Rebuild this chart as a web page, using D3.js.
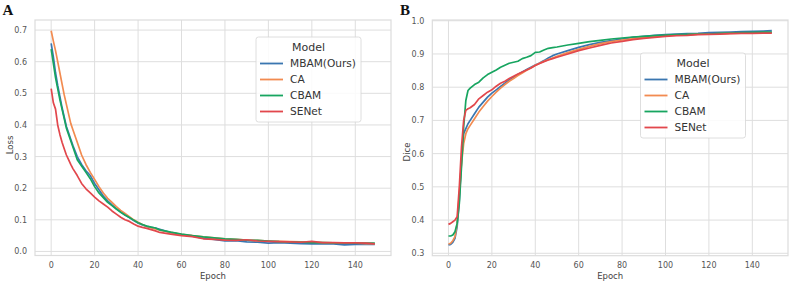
<!DOCTYPE html>
<html>
<head>
<meta charset="utf-8">
<script src="https://cdn.jsdelivr.net/npm/d3@7"></script>
<style>
  body { margin: 0; background: #fff; }
  svg { display: block; }
  text { font-family: "DejaVu Sans", sans-serif; }
</style>
</head>
<body>
<div id="chart"></div>
<script>
// epochs sampled from the curves (same for all series)
const epochs = [0, 1, 2, 3, 4, 5, 6, 7, 8, 9, 10,
  12, 14, 16, 18, 20, 22, 24, 26, 28, 30, 32, 34, 36, 38, 40, 42, 44, 46, 48,
  50, 55, 60, 65, 70, 75, 80, 85, 90, 95, 100, 105, 110, 115, 120, 125, 130, 135, 140, 145, 149];

const models = ['MBAM(Ours)', 'CA', 'CBAM', 'SENet'];
const colors = ['#3a76b0', '#f28b50', '#17a560', '#e2474c'];

// Panel A - Loss
const lossMBAM = [0.658, 0.615, 0.565, 0.525, 0.49, 0.455, 0.425, 0.395, 0.375, 0.355, 0.335,
  0.30, 0.275, 0.255, 0.24, 0.215, 0.195, 0.175, 0.16, 0.147, 0.135, 0.125, 0.115, 0.107, 0.098, 0.09, 0.084, 0.079, 0.076, 0.074,
  0.07, 0.06, 0.053, 0.048, 0.042, 0.038, 0.033, 0.034, 0.03, 0.029, 0.026, 0.028, 0.026, 0.025, 0.024, 0.025, 0.024, 0.021, 0.022, 0.022, 0.022];
const lossCA = [0.698, 0.665, 0.635, 0.60, 0.565, 0.53, 0.495, 0.465, 0.435, 0.405, 0.385,
  0.345, 0.305, 0.275, 0.25, 0.228, 0.205, 0.185, 0.168, 0.155, 0.142, 0.13, 0.12, 0.11, 0.10, 0.092, 0.085, 0.079, 0.075, 0.071,
  0.067, 0.06, 0.054, 0.05, 0.046, 0.043, 0.04, 0.038, 0.036, 0.035, 0.033, 0.032, 0.031, 0.03, 0.029, 0.028, 0.027, 0.026, 0.026, 0.025, 0.025];
const lossCBAM = [0.64, 0.595, 0.55, 0.515, 0.48, 0.45, 0.42, 0.39, 0.37, 0.35, 0.33,
  0.29, 0.27, 0.25, 0.23, 0.205, 0.185, 0.17, 0.155, 0.145, 0.134, 0.124, 0.115, 0.107, 0.099, 0.091, 0.085, 0.08, 0.077, 0.074,
  0.068, 0.061, 0.055, 0.05, 0.046, 0.043, 0.04, 0.038, 0.036, 0.035, 0.033, 0.031, 0.03, 0.029, 0.028, 0.028, 0.027, 0.027, 0.026, 0.026, 0.026];
const lossSENet = [0.515, 0.47, 0.45, 0.40, 0.37, 0.345, 0.325, 0.305, 0.29, 0.275, 0.262,
  0.24, 0.215, 0.198, 0.185, 0.172, 0.16, 0.15, 0.14, 0.128, 0.118, 0.108, 0.10, 0.095, 0.087, 0.08, 0.076, 0.073, 0.069, 0.065,
  0.06, 0.055, 0.05, 0.047, 0.04, 0.038, 0.036, 0.035, 0.037, 0.033, 0.032, 0.031, 0.03, 0.029, 0.032, 0.028, 0.028, 0.027, 0.027, 0.026, 0.024];

// Panel B - Dice
const diceMBAM = [0.325, 0.327, 0.333, 0.345, 0.38, 0.46, 0.58, 0.66, 0.675, 0.69, 0.70,
  0.72, 0.74, 0.755, 0.77, 0.782, 0.792, 0.802, 0.812, 0.822, 0.83, 0.838, 0.846, 0.853, 0.86, 0.867, 0.873, 0.88, 0.888, 0.895,
  0.90, 0.91, 0.92, 0.928, 0.935, 0.94, 0.945, 0.95, 0.953, 0.956, 0.958, 0.96, 0.961, 0.962, 0.964, 0.965, 0.966, 0.967, 0.968, 0.969, 0.97];
const diceCA = [0.328, 0.33, 0.338, 0.35, 0.39, 0.48, 0.57, 0.63, 0.66, 0.675, 0.685,
  0.705, 0.725, 0.742, 0.758, 0.772, 0.785, 0.797, 0.808, 0.818, 0.826, 0.835, 0.843, 0.851, 0.858, 0.866, 0.872, 0.878, 0.883, 0.888,
  0.893, 0.904, 0.914, 0.923, 0.931, 0.937, 0.942, 0.946, 0.95, 0.952, 0.955, 0.957, 0.958, 0.96, 0.96, 0.961, 0.962, 0.963, 0.963, 0.964, 0.964];
const diceCBAM = [0.352, 0.352, 0.355, 0.365, 0.39, 0.45, 0.56, 0.68, 0.76, 0.79, 0.797,
  0.808, 0.815, 0.828, 0.838, 0.845, 0.852, 0.86, 0.866, 0.872, 0.875, 0.878, 0.886, 0.89, 0.895, 0.905, 0.906, 0.912, 0.917, 0.919,
  0.921, 0.927, 0.932, 0.937, 0.941, 0.945, 0.948, 0.951, 0.953, 0.955, 0.957, 0.958, 0.959, 0.96, 0.96, 0.962, 0.963, 0.964, 0.965, 0.966, 0.966];
const diceSENet = [0.387, 0.39, 0.395, 0.40, 0.41, 0.50, 0.62, 0.70, 0.73, 0.735, 0.738,
  0.748, 0.765, 0.775, 0.785, 0.792, 0.803, 0.812, 0.818, 0.826, 0.833, 0.84, 0.846, 0.852, 0.858, 0.865, 0.871, 0.877, 0.882, 0.886,
  0.89, 0.90, 0.91, 0.918, 0.926, 0.933, 0.938, 0.943, 0.947, 0.95, 0.953, 0.955, 0.956, 0.958, 0.959, 0.96, 0.961, 0.962, 0.962, 0.963, 0.963];

const xTicks = [0, 20, 40, 60, 80, 100, 120, 140];
const lossTicks = [0.0, 0.1, 0.2, 0.3, 0.4, 0.5, 0.6, 0.7];
const diceTicks = [0.3, 0.4, 0.5, 0.6, 0.7, 0.8, 0.9, 1.0];

const width = 794, height = 283;

const svg = d3.select('#chart').append('svg')
  .attr('width', width)
  .attr('height', height);

// matplotlib style 5% padding around data
function padded(ext) {
  const m = (ext[1] - ext[0]) * 0.05;
  return [ext[0] - m, ext[1] + m];
}

function drawPanel(cfg) {
  const x = d3.scaleLinear().domain(padded(d3.extent(epochs))).range([cfg.left, cfg.right]);
  const y = d3.scaleLinear().domain(padded(d3.extent(cfg.series.flat()))).range([cfg.bottom, cfg.top]);

  const g = svg.append('g');

  // grid
  g.append('g').selectAll('line').data(cfg.yTicks).enter().append('line')
    .attr('x1', cfg.left).attr('x2', cfg.right)
    .attr('y1', d => y(d)).attr('y2', d => y(d))
    .attr('stroke', '#dedede').attr('stroke-width', 1);
  g.append('g').selectAll('line').data(xTicks).enter().append('line')
    .attr('y1', cfg.top).attr('y2', cfg.bottom)
    .attr('x1', d => x(d)).attr('x2', d => x(d))
    .attr('stroke', '#dedede').attr('stroke-width', 1);

  // frame
  g.append('rect')
    .attr('x', cfg.left).attr('y', cfg.top)
    .attr('width', cfg.right - cfg.left).attr('height', cfg.bottom - cfg.top)
    .attr('fill', 'none').attr('stroke', '#dcdcdc').attr('stroke-width', 1.2);

  // tick labels
  g.append('g').selectAll('text').data(cfg.yTicks).enter().append('text')
    .attr('x', cfg.left - 8).attr('y', d => y(d) + 3)
    .attr('text-anchor', 'end')
    .attr('font-size', '8px').attr('fill', '#555')
    .text(d => d.toFixed(1));
  g.append('g').selectAll('text').data(xTicks).enter().append('text')
    .attr('x', d => x(d)).attr('y', cfg.bottom + 12)
    .attr('text-anchor', 'middle')
    .attr('font-size', '8px').attr('fill', '#555')
    .text(d => d);

  // axis labels
  g.append('text')
    .attr('x', (cfg.left + cfg.right) / 2).attr('y', 278.5)
    .attr('text-anchor', 'middle')
    .attr('font-size', '8.5px').attr('fill', '#444')
    .text('Epoch');
  g.append('text')
    .attr('transform', `translate(${cfg.ylabX},${cfg.ylabY}) rotate(-90)`)
    .attr('text-anchor', 'middle')
    .attr('font-size', '8.5px').attr('fill', '#444')
    .text(cfg.yLabel);

  // lines
  const line = d3.line()
    .x((d, i) => x(epochs[i]))
    .y(d => y(d));
  g.append('g').selectAll('path').data(cfg.series).enter().append('path')
    .attr('d', d => line(d))
    .attr('fill', 'none')
    .attr('stroke', (d, i) => colors[i])
    .attr('stroke-width', 1.7)
    .attr('stroke-linejoin', 'round');

  // legend
  const lg = g.append('g').attr('transform', `translate(${cfg.legX},${cfg.legY})`);
  lg.append('rect')
    .attr('width', 105).attr('height', 85).attr('rx', 2.5)
    .attr('fill', 'white').attr('fill-opacity', 0.85)
    .attr('stroke', '#d6d6d6').attr('stroke-width', 0.8);
  lg.append('text')
    .attr('x', 52.5).attr('y', 13.5)
    .attr('text-anchor', 'middle')
    .attr('font-size', '11px').attr('fill', '#333')
    .text('Model');
  models.forEach((m, i) => {
    const yy = 26.5 + i * 16;
    lg.append('line')
      .attr('x1', 4).attr('x2', 27).attr('y1', yy).attr('y2', yy)
      .attr('stroke', colors[i]).attr('stroke-width', 1.8);
    lg.append('text')
      .attr('x', 34).attr('y', yy + 3.8)
      .attr('font-size', '10.6px').attr('fill', '#333')
      .text(m);
  });

  // panel letter
  svg.append('text')
    .attr('x', cfg.letterX).attr('y', 15)
    .style('font-family', '"Liberation Serif", "DejaVu Serif", serif')
    .attr('font-weight', 'bold').attr('font-size', '15px')
    .attr('fill', '#111')
    .text(cfg.letter);
}

drawPanel({
  letter: 'A', letterX: 2.5,
  left: 35, right: 391, top: 20, bottom: 255.5,
  series: [lossMBAM, lossCA, lossCBAM, lossSENet],
  yTicks: lossTicks, yLabel: 'Loss', ylabX: 13, ylabY: 145,
  legX: 256, legY: 37
});

drawPanel({
  letter: 'B', letterX: 400,
  left: 432.3, right: 788, top: 20, bottom: 255.7,
  series: [diceMBAM, diceCA, diceCBAM, diceSENet],
  yTicks: diceTicks, yLabel: 'Dice', ylabX: 409.5, ylabY: 152,
  legX: 640.5, legY: 53
});
</script>
</body>
</html>
